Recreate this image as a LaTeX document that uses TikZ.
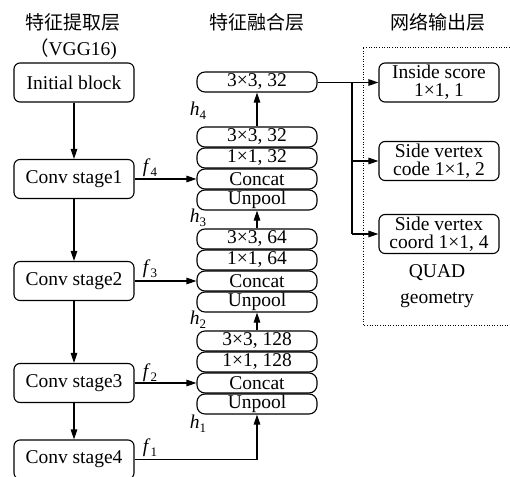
\documentclass[tikz,border=0pt]{standalone}
\usepackage{fontspec}
\setmainfont{Liberation Serif}
\newfontfamily\cjk{Noto Sans CJK SC}
\usetikzlibrary{arrows.meta}
\newcommand\sublbl[2]{\textit{#1}\raisebox{-0.4ex}{\fontsize{13}{13}\selectfont #2}}
\tikzset{
  every node/.style={font=\fontsize{19.5}{18}\selectfont},
  bigbox/.style={draw, line width=1.1pt, rounded corners=6pt, minimum width=120pt,
    minimum height=39pt, inner sep=0pt, align=center},
  layerbox/.style={draw, line width=1.1pt, rounded corners=8pt, minimum width=120pt,
    minimum height=20pt, inner sep=0pt},
  title/.style={font=\cjk\fontsize{19}{19}\selectfont},
  conn/.style={line width=1.1pt},
  arr/.style={conn, -{Triangle[length=10pt,width=6.5pt]}},
  lbl/.style={inner sep=0pt},
}
\begin{document}
\begin{tikzpicture}[x=1pt,y=-1pt]
\useasboundingbox (0,0) rectangle (510,476);

% column titles
\node[title] (t1) at (73,22) {特征提取层};
\node[inner sep=0pt] (t1b) at (73,49) {{\cjk （}VGG16)};
\node[title] (t2) at (257,22) {特征融合层};
\node[title] (t3) at (438,22) {网络输出层};

% feature extraction backbone
\node[bigbox] (ib) at (74,82.5) {Initial block};
\node[bigbox] (c1) at (74,179) {Conv stage1};
\node[bigbox] (c2) at (74,281) {Conv stage2};
\node[bigbox] (c3) at (74,383) {Conv stage3};
\node[bigbox] (c4) at (74,459.5) {Conv stage4};

\draw[arr] (ib) -- (c1);
\draw[arr] (c1) -- (c2);
\draw[arr] (c2) -- (c3);
\draw[arr] (c3) -- (c4);

% feature merging branch
\node[layerbox] (top) at (257,82) {3×3, 32};

\node[layerbox] (a3) at (257,137) {3×3, 32};
\node[layerbox] (a2) at (257,158) {1×1, 32};
\node[layerbox] (a1) at (257,179) {Concat};
\node[layerbox] (a0) at (257,200) {Unpool};

\node[layerbox] (b3) at (257,239) {3×3, 64};
\node[layerbox] (b2) at (257,260) {1×1, 64};
\node[layerbox] (b1) at (257,281) {Concat};
\node[layerbox] (b0) at (257,302) {Unpool};

\node[layerbox] (d3) at (257,341) {3×3, 128};
\node[layerbox] (d2) at (257,362) {1×1, 128};
\node[layerbox] (d1) at (257,383) {Concat};
\node[layerbox] (d0) at (257,404) {Unpool};

\draw[arr] (a3) -- (top);
\draw[arr] (b3) -- (a0);
\draw[arr] (d3) -- (b0);
\draw[arr] (c4.east) -| (d0.south);

\draw[arr] (c1) -- (a1);
\draw[arr] (c2) -- (b1);
\draw[arr] (c3) -- (d1);

\node[lbl] (f4) at (150,168) {\sublbl{f}{4}};
\node[lbl] (f3) at (150,269) {\sublbl{f}{3}};
\node[lbl] (f2) at (150,373) {\sublbl{f}{2}};
\node[lbl] (f1) at (150,448) {\sublbl{f}{1}};

\node[lbl] (h4) at (198,111) {\sublbl{h}{4}};
\node[lbl] (h3) at (198,218) {\sublbl{h}{3}};
\node[lbl] (h2) at (198,320) {\sublbl{h}{2}};
\node[lbl] (h1) at (198,424) {\sublbl{h}{1}};

% output layer
\draw[line width=0.9pt, dash pattern=on 1pt off 1.6pt]
  (510,47) -- (363,47) -- (363,325) -- (510,325);

\node[bigbox] (o1) at (439,82.5) {Inside score\\1×1, 1};
\node[bigbox] (o2) at (439,161) {Side vertex\\code 1×1, 2};
\node[bigbox] (o3) at (439,234) {Side vertex\\coord 1×1, 4};

\coordinate (br) at (352,82.5);
\draw[arr] (top.east |- o1.west) -- (o1.west);
\draw[conn] (br) -- (br |- o3.west);
\draw[arr] (br |- o2.west) -- (o2.west);
\draw[arr] (br |- o3.west) -- (o3.west);

\node[lbl] (q1) at (437,273) {QUAD};
\node[lbl] (q2) at (437,300) {geometry};
\end{tikzpicture}
\end{document}
